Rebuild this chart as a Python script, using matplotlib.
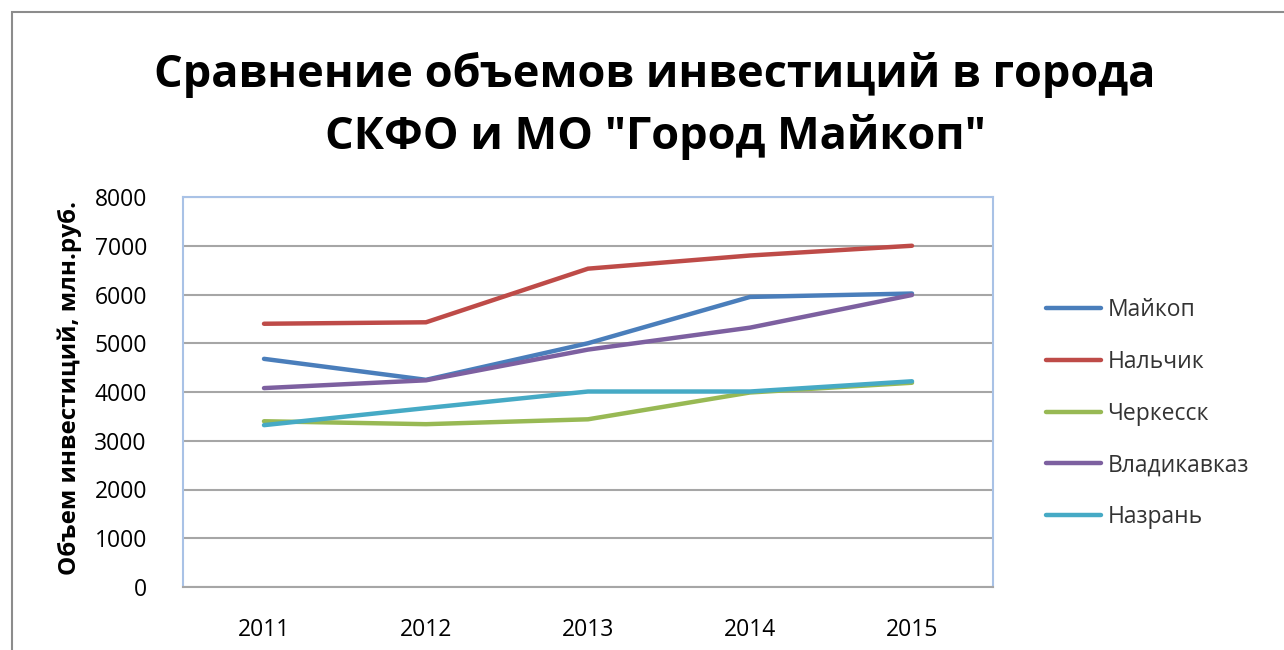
import matplotlib
matplotlib.use("Agg")
import matplotlib.pyplot as plt
from matplotlib.patches import Rectangle

years = ["2011", "2012", "2013", "2014", "2015"]
maikop = [4680, 4250, 5000, 5950, 6020]
nalchik = [5400, 5430, 6530, 6800, 7000]
cherkessk = [3400, 3340, 3440, 3990, 4190]
vladikavkaz = [4080, 4240, 4870, 5320, 5990]
nazran = [3320, 3670, 4010, 4010, 4220]
series_names = ["Майкоп", "Нальчик", "Черкесск", "Владикавказ", "Назрань"]
colors = ["#4A7EBB", "#BE4B48", "#98B954", "#7D60A0", "#46AAC5"]
yticks = [0, 1000, 2000, 3000, 4000, 5000, 6000, 7000, 8000]

W, H = 1284, 650
fig = plt.figure(figsize=(W/100, H/100), dpi=100)
fig.patch.set_facecolor("white")

# outer chart border
fig.add_artist(Rectangle((12/W, -0.01), 1.02, (H-12)/H + 0.01, transform=fig.transFigure,
                         fill=False, edgecolor="#8c8c8c", linewidth=1.5))

ax = fig.add_axes([183/W, 1-587/H, (993-183)/W, (587-197)/H])
x = list(range(len(years)))
for vals, name, c in zip([maikop, nalchik, cherkessk, vladikavkaz, nazran], series_names, colors):
    ax.plot(x, vals, color=c, linewidth=3.2, label=name, solid_capstyle="round", solid_joinstyle="round")

ax.set_xlim(-0.5, len(years)-0.5)
ax.set_ylim(0, 8000)
ax.set_yticks(yticks)
ax.set_yticklabels([str(v) for v in yticks], fontsize=16.5, family="Open Sans")
ax.set_xticks(x)
ax.set_xticklabels(years, fontsize=16.5, family="Open Sans")
ax.tick_params(axis="x", length=0, pad=22)
ax.tick_params(axis="y", length=0, pad=26)
ax.grid(axis="y", color="#a6a6a6", linewidth=1.5)
ax.set_axisbelow(True)
for s in ax.spines.values():
    s.set_color("#a9c2e6")
    s.set_linewidth(1.5)
ax.spines["bottom"].set_color("#a6a6a6")

fig.text(70/W, 1-388/H, "Объем инвестиций, млн.руб.", rotation=90, ha="center", va="center",
         fontsize=17.5, fontweight="bold", family="Open Sans")

fig.text(655/W, 1-75/H, "Сравнение объемов инвестиций в города", ha="center", va="center",
         fontsize=32.5, fontweight="bold", family="Open Sans")
fig.text(655/W, 1-137/H, "СКФО и МО \"Город Майкоп\"", ha="center", va="center",
         fontsize=32.5, fontweight="bold", family="Open Sans")

leg = ax.legend(loc="upper left", bbox_to_anchor=(1025/W, 1-277/H), bbox_transform=fig.transFigure,
                frameon=False, prop={"family": "Open Sans", "size": 16.5}, handlelength=2.4,
                handletextpad=0.3, labelspacing=1.22)
for t in leg.get_texts():
    t.set_color("#333333")

fig.savefig("out.png", dpi=100)
